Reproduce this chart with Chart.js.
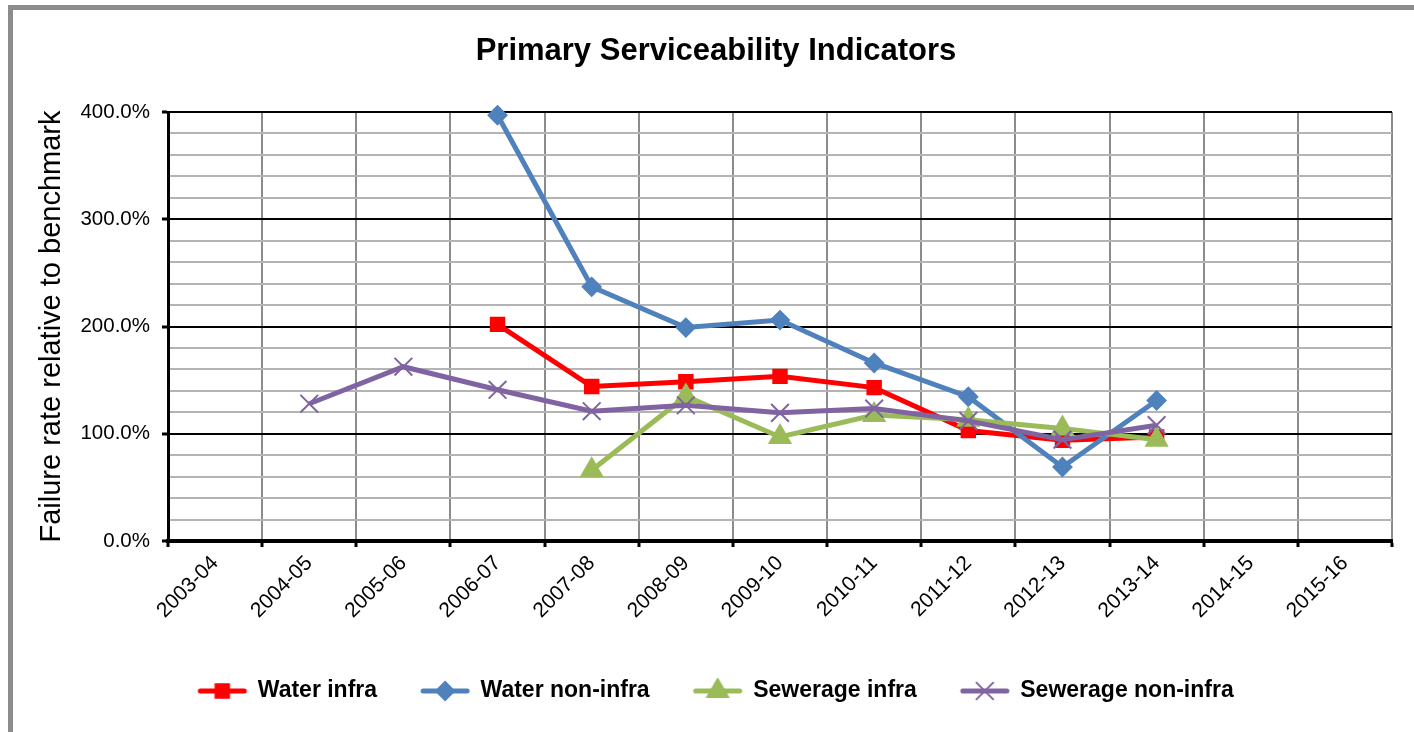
<!DOCTYPE html>
<html>
<head>
<meta charset="utf-8">
<script src="https://cdn.jsdelivr.net/npm/chart.js@4.4.1/dist/chart.umd.min.js"></script>
<style>
  html, body { margin: 0; padding: 0; background: #fff; overflow: hidden; width: 1414px; height: 732px; }
  #frame { position: absolute; left: 8px; top: 5px; width: 1500px; height: 800px; border-left: 5px solid #8c8c8c; border-top: 5px solid #8c8c8c; }
  #wrap { position: absolute; left: 0; top: 0; width: 1414px; height: 732px; }
</style>
</head>
<body>
<div id="frame"></div>
<div id="wrap"><canvas id="c" width="1414" height="732"></canvas></div>
<script>
// ---- data ----
const categories = ['2003-04','2004-05','2005-06','2006-07','2007-08','2008-09','2009-10','2010-11','2011-12','2012-13','2013-14','2014-15','2015-16'];
const seriesNames = ['Water infra','Water non-infra','Sewerage infra','Sewerage non-infra'];
const waterInfra       = [null, null, null, 202, 144, 148.5, 153.5, 143, 103, 94, 97, null, null];
const waterNonInfra    = [null, null, null, 397, 237, 199, 206, 166, 134.5, 69, 131, null, null];
const sewerageInfra    = [null, null, null, null, 66, 135, 97, 117.5, 113, 105, 94.5, null, null];
const sewerageNonInfra = [null, 128, 162.5, 141, 121, 126.5, 119.5, 123.5, 112, 94.5, 108, null, null];
const yMajorTicks = [0, 100, 200, 300, 400];

const colors = ['#ff0000', '#4f81bd', '#9bbb59', '#8064a2'];
const styles = ['rect', 'rectRot', 'triangle', 'crossRot'];
const radii = [9.5, 9, 12, 12.5];

function legendImage(color, style, r) {
  const c = document.createElement('canvas');
  c.width = 52; c.height = 26;
  const g = c.getContext('2d');
  g.strokeStyle = color; g.fillStyle = color;
  g.lineWidth = 5; g.lineCap = 'round';
  g.beginPath(); g.moveTo(4, 13); g.lineTo(48, 13); g.stroke();
  const cx = 26, cy = 13;
  g.lineWidth = 2; g.lineCap = 'butt';
  g.beginPath();
  if (style === 'rect') {
    const s = r * Math.SQRT1_2;
    g.rect(cx - s, cy - s, 2 * s, 2 * s); g.fill(); g.stroke();
  } else if (style === 'rectRot') {
    g.moveTo(cx - r, cy); g.lineTo(cx, cy + r); g.lineTo(cx + r, cy); g.lineTo(cx, cy - r); g.closePath(); g.fill(); g.stroke();
  } else if (style === 'triangle') {
    g.moveTo(cx, cy - r); g.lineTo(cx + r * Math.sin(Math.PI / 3), cy + r / 2); g.lineTo(cx - r * Math.sin(Math.PI / 3), cy + r / 2); g.closePath(); g.fill(); g.stroke();
  } else {
    const s = r * Math.SQRT1_2;
    g.moveTo(cx - s, cy - s); g.lineTo(cx + s, cy + s); g.moveTo(cx + s, cy - s); g.lineTo(cx - s, cy + s); g.stroke();
  }
  return c;
}

const seriesData = [waterInfra, waterNonInfra, sewerageInfra, sewerageNonInfra];
const datasets = seriesData.map((d, i) => ({
  label: seriesNames[i],
  data: d,
  borderColor: colors[i],
  backgroundColor: colors[i],
  borderWidth: 5,
  tension: 0,
  fill: false,
  spanGaps: false,
  pointStyle: styles[i],
  pointRadius: radii[i],
  pointHoverRadius: radii[i],
  pointBackgroundColor: colors[i],
  pointBorderColor: colors[i],
  pointBorderWidth: 2,
  clip: false,
  order: 3 - i
}));

const legendImgs = styles.map((s, i) => legendImage(colors[i], s, radii[i]));
const boldFont = '"Liberation Sans", Arial, sans-serif';

new Chart(document.getElementById('c'), {
  type: 'line',
  data: { labels: categories, datasets },
  options: {
    responsive: false,
    devicePixelRatio: 1,
    animation: false,
    events: [],
    layout: { padding: { left: 40, right: 22, top: 0, bottom: 19.5 } },
    plugins: {
      tooltip: { enabled: false },
      title: {
        display: true,
        text: 'Primary Serviceability Indicators',
        color: '#000',
        font: { family: boldFont, size: 31, weight: 'bold', lineHeight: 1.2 },
        padding: { top: 32.4, bottom: 42.4 }
      },
      legend: {
        display: true,
        position: 'bottom',
        labels: {
          color: '#000',
          font: { family: boldFont, size: 23, weight: 'bold' },
          usePointStyle: true,
          pointStyleWidth: 48,
          padding: 44,
          sort: (a, b) => a.datasetIndex - b.datasetIndex,
          generateLabels: (chart) => chart.data.datasets.map((ds, i) => ({
            text: ds.label,
            datasetIndex: i,
            fillStyle: ds.backgroundColor,
            strokeStyle: ds.borderColor,
            lineWidth: 0,
            pointStyle: legendImgs[i],
            fontColor: '#000',
            hidden: false
          }))
        }
      }
    },
    scales: {
      x: {
        type: 'category',
        offset: true,
        grid: {
          offset: true,
          color: '#8c8c8c',
          lineWidth: 2,
          drawTicks: true,
          tickLength: 6,
          tickColor: '#000',
          tickWidth: 3
        },
        border: { display: true, color: '#000', width: 4 },
        ticks: {
          color: '#000',
          font: { family: '"Liberation Sans", Arial, sans-serif', size: 21 },
          minRotation: 45,
          maxRotation: 45,
          autoSkip: false,
          padding: 4
        },
        afterFit: (scale) => { scale.height = 94.5; }
      },
      y: {
        min: 0,
        max: 400,
        grid: {
          color: (ctx) => (yMajorTicks.includes(ctx.tick.value) ? '#000' : '#b4b4b4'),
          lineWidth: 2,
          drawTicks: true,
          tickLength: 6,
          tickColor: (ctx) => (yMajorTicks.includes(ctx.tick.value) ? '#000' : 'rgba(0,0,0,0)'),
          tickWidth: 3
        },
        border: { display: true, color: '#000', width: 3 },
        ticks: {
          stepSize: 20,
          autoSkip: false,
          color: '#000',
          padding: 12,
          font: { family: '"Liberation Sans", Arial, sans-serif', size: 20.5 },
          callback: (v) => (yMajorTicks.includes(v) ? v.toFixed(1) + '%' : '')
        },
        title: {
          display: true,
          text: 'Failure rate relative to benchmark',
          color: '#000',
          font: { family: '"Liberation Sans", Arial, sans-serif', size: 29, lineHeight: 1 },
          padding: { top: -3, bottom: 0 }
        },
        afterFit: (scale) => { scale.width = 128; }
      }
    }
  }
});
</script>
</body>
</html>
